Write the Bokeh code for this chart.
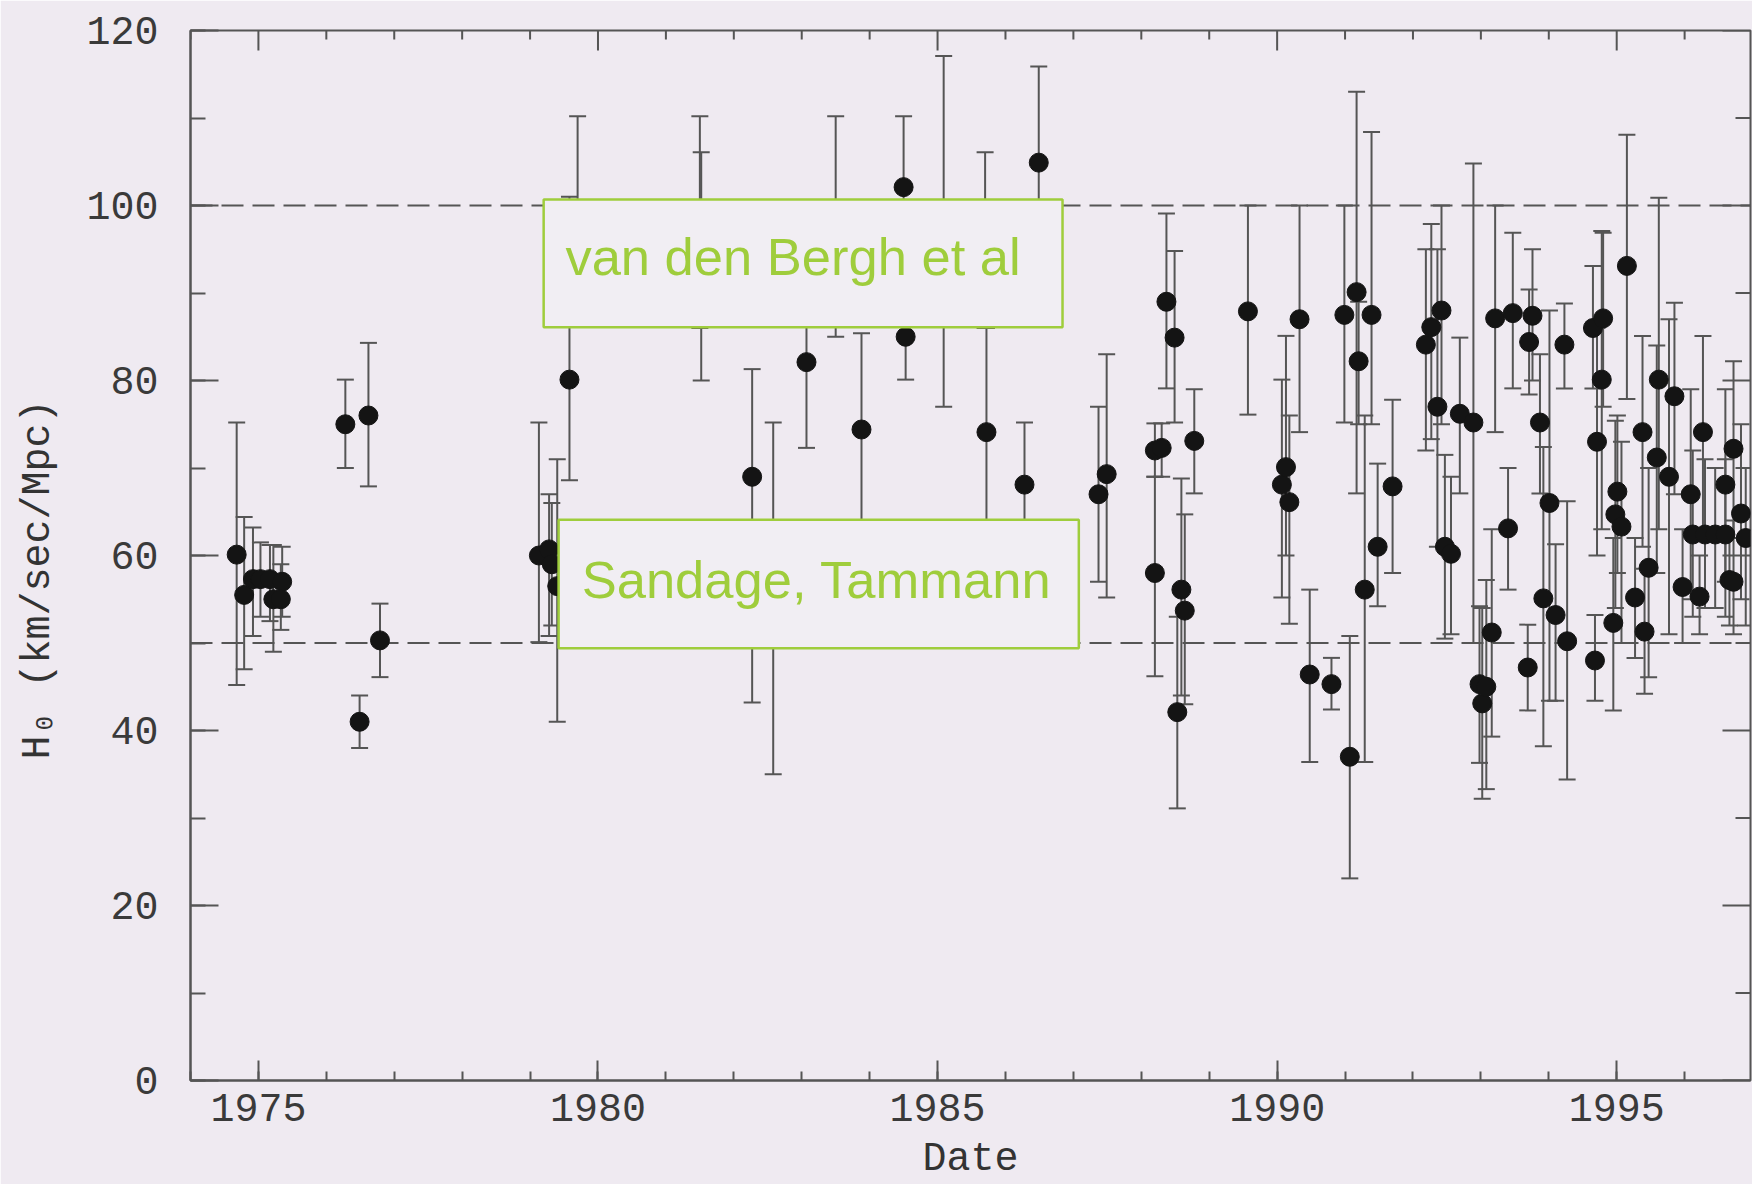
import math
from bokeh.plotting import figure
from bokeh.models import (ColumnDataSource, Whisker, TeeHead, Span, BoxAnnotation,
                          Label, SingleIntervalTicker, Range1d)
from bokeh.embed import file_html
from bokeh.resources import INLINE

# ---------------- data ----------------
year = [1974.68, 1974.79, 1974.92, 1975.03, 1975.17, 1975.22, 1975.35, 1975.33,
        1976.28, 1976.62, 1976.49, 1976.79,
        1979.13, 1979.28, 1979.32, 1979.40, 1979.58, 1979.70,
        1981.50, 1981.52, 1982.27, 1982.58, 1983.07, 1983.50, 1983.88,
        1984.50, 1984.53, 1985.09, 1985.70, 1985.72, 1986.28, 1986.49,
        1987.37, 1987.49,
        1988.20, 1988.20, 1988.30, 1988.37, 1988.49, 1988.59, 1988.64, 1988.53, 1988.78,
        1989.57,
        1990.07, 1990.13, 1990.18, 1990.33, 1990.48, 1990.80, 1990.99, 1991.07,
        1991.17, 1991.20, 1991.39, 1991.29, 1991.48, 1991.70,
        1992.19, 1992.27, 1992.42, 1992.36, 1992.47, 1992.56, 1992.69, 1992.89,
        1992.98, 1993.02, 1993.08, 1993.16, 1993.21, 1993.40, 1993.47, 1993.69,
        1993.71, 1993.76, 1993.87, 1993.92, 1994.01, 1994.10, 1994.23, 1994.27,
        1994.65, 1994.68, 1994.71, 1994.78, 1994.80, 1994.95, 1994.98, 1995.01,
        1995.07, 1995.15, 1995.27, 1995.38, 1995.41, 1995.47, 1995.59, 1995.62,
        1995.77, 1995.85, 1995.97, 1996.09, 1996.12, 1996.22, 1996.27, 1996.30,
        1996.45, 1996.60, 1996.60, 1996.66, 1996.72, 1996.72, 1996.83, 1996.90]
h0 = [60.1, 55.5, 57.3, 57.3, 57.3, 55.0, 57.0, 55.0,
      75.0, 76.0, 41.0, 50.3,
      60.0, 60.7, 59.0, 56.5, 80.1, 95.0,
      94.0, 93.0, 69.0, 55.0, 82.1, 93.0, 74.4,
      102.1, 85.0, 97.0, 96.0, 74.1, 68.1, 104.9,
      67.0, 69.3,
      58.0, 72.0, 72.3, 89.0, 84.9, 56.1, 53.7, 42.1, 73.1,
      87.9,
      68.1, 70.1, 66.1, 87.0, 46.4, 45.3, 87.5, 37.0,
      90.1, 82.2, 87.5, 56.1, 61.0, 67.9,
      84.1, 86.1, 88.0, 77.0, 61.0, 60.2, 76.2, 75.2,
      45.3, 43.1, 45.0, 51.2, 87.1, 63.1, 87.7, 47.2,
      84.4, 87.4, 75.2, 55.1, 66.0, 53.2, 84.1, 50.2,
      86.0, 48.0, 73.0, 80.1, 87.1, 52.3, 64.7, 67.3,
      63.3, 93.1, 55.2, 74.1, 51.3, 58.6, 71.2, 80.1,
      69.0, 78.2, 56.4, 67.0, 62.4, 55.3, 74.1, 62.4,
      62.4, 68.1, 62.4, 57.2, 72.2, 57.0, 64.8, 62.0]
h0_lo = [45.2, 47.0, 50.8, 53.0, 52.5, 49.0, 53.0, 51.5,
         70.0, 67.9, 38.0, 46.1,
         50.1, 50.8, 52.0, 41.0, 68.6, 88.0,
         86.0, 80.0, 43.2, 35.0, 72.3, 85.0, 60.0,
         94.0, 80.1, 77.0, 86.0, 63.0, 60.0, 94.0,
         57.0, 55.2,
         46.2, 69.0, 69.0, 79.1, 75.2, 44.0, 43.0, 31.1, 67.1,
         76.1,
         55.2, 60.0, 52.2, 74.1, 36.4, 42.4, 75.2, 23.1,
         67.1, 75.0, 75.0, 36.4, 54.2, 58.0,
         72.0, 73.3, 75.0, 61.0, 50.5, 51.0, 67.1, 50.0,
         36.3, 32.2, 33.3, 39.3, 74.1, 56.1, 79.1, 42.3,
         78.4, 80.0, 67.1, 38.2, 43.4, 43.4, 79.1, 34.4,
         79.1, 43.4, 60.0, 63.0, 77.0, 42.3, 54.0, 58.0,
         50.0, 77.9, 48.3, 61.0, 44.2, 46.1, 58.0, 63.0,
         51.0, 67.0, 50.0, 55.0, 53.0, 51.0, 63.0, 54.0,
         54.0, 57.0, 53.0, 52.0, 62.0, 51.0, 55.0, 52.0]
h0_hi = [75.2, 64.4, 63.2, 61.5, 61.2, 61.2, 61.0, 59.0,
         80.1, 84.3, 44.0, 54.5,
         75.2, 67.0, 66.0, 71.0, 101.0, 110.2,
         110.2, 106.1, 81.3, 75.2, 90.0, 110.2, 85.4,
         110.2, 90.0, 117.1, 106.1, 86.0, 75.2, 115.9,
         77.0, 83.0,
         69.0, 75.1, 75.1, 99.1, 94.8, 68.8, 64.7, 53.0, 79.0,
         100.0,
         80.1, 85.1, 76.0, 100.0, 56.1, 48.3, 100.0, 50.8,
         113.0, 89.0, 108.4, 76.0, 70.5, 77.8,
         95.0, 97.9, 100.0, 95.0, 71.5, 69.0, 84.9, 104.8,
         54.2, 54.0, 57.2, 63.0, 100.0, 70.0, 96.9, 52.1,
         90.4, 95.0, 83.0, 72.4, 88.0, 61.3, 88.8, 66.2,
         93.1, 53.2, 86.0, 97.1, 96.9, 62.0, 75.4, 76.0,
         73.0, 108.1, 62.0, 85.1, 58.5, 70.0, 84.0, 100.9,
         87.0, 88.9, 63.0, 79.0, 72.0, 60.0, 85.1, 71.0,
         70.0, 79.0, 71.0, 62.0, 82.2, 64.0, 75.0, 70.0]

x_start, x_end = 1974, 1996.97
y_start, y_end = 0, 120
x_tick_years = list(range(1974, 1997))        # minor every year, major every 5
y_tick_values = list(range(0, 121, 10))       # minor every 10, major every 20
x_major_step = 5
y_major_step = 20
ref_values = [100, 50]
labels = ["van den Bergh et al", "Sandage, Tammann"]
x_title = "Date"
y_title = "H\u2080   (km/sec/Mpc)"

# ---------------- style ----------------
BG = "#efeaf1"
AX = "#555555"
GREEN = "#9fcd3c"
FONT = "Liberation Mono"

src = ColumnDataSource(dict(x=year, y=h0, lo=h0_lo, hi=h0_hi))

p = figure(width=1752, height=1184, x_range=Range1d(x_start, x_end), y_range=Range1d(y_start, y_end),
           output_backend="svg", toolbar_location=None,
           min_border_left=190, min_border_right=2, min_border_top=30, min_border_bottom=102,
           background_fill_color=BG, border_fill_color=BG,
           outline_line_color=AX, outline_line_width=2)
p.xgrid.visible = False
p.ygrid.visible = False

for ax, horizontal in ((p.xaxis[0], True), (p.yaxis[0], False)):
    ax.axis_line_color = AX
    ax.axis_line_width = 2
    ax.major_tick_line_color = AX
    ax.minor_tick_line_color = AX
    ax.major_tick_line_width = 2
    ax.minor_tick_line_width = 2
    ax.major_tick_out = 0
    ax.minor_tick_out = 0
    ax.major_label_text_font = FONT
    ax.major_label_text_font_size = "40px"
    ax.major_label_text_color = "#3a3a3a"
    ax.axis_label_text_font = FONT
    ax.axis_label_text_font_size = "40px"
    ax.axis_label_text_font_style = "normal"
    ax.axis_label_text_color = "#333333"
    if horizontal:
        ax.major_tick_in = 20
        ax.minor_tick_in = 9
        ax.ticker = SingleIntervalTicker(interval=x_major_step, num_minor_ticks=5)
    else:
        ax.major_tick_in = 28
        ax.minor_tick_in = 15
        ax.ticker = SingleIntervalTicker(interval=y_major_step, num_minor_ticks=2)

p.xaxis[0].axis_label = x_title
p.xaxis[0].major_label_standoff = 13
p.xaxis[0].axis_label_standoff = 13
p.yaxis[0].axis_label = y_title
p.yaxis[0].major_label_standoff = 32
p.yaxis[0].axis_label_standoff = 22

# inward ticks on the top and right frame edges (no labels there)
top_len = [20 if v % x_major_step == 0 else 9 for v in x_tick_years]
p.ray(x=x_tick_years, y=[y_end] * len(x_tick_years), length=top_len, length_units="screen",
      angle=-math.pi / 2, line_color=AX, line_width=2)
right_len = [28 if v % y_major_step == 0 else 15 for v in y_tick_values]
p.ray(x=[x_end] * len(y_tick_values), y=y_tick_values, length=right_len, length_units="screen",
      angle=math.pi, line_color=AX, line_width=2)

# reference dashed lines
for v in ref_values:
    p.add_layout(Span(location=v, dimension="width", line_color=AX, line_width=2,
                      line_dash="22 9", level="underlay"))

# error bars
p.add_layout(Whisker(source=src, base="x", lower="lo", upper="hi", dimension="height",
                     line_color="#555555", line_width=2, level="underlay",
                     lower_head=TeeHead(size=17, line_color="#555555", line_width=2),
                     upper_head=TeeHead(size=17, line_color="#555555", line_width=2)))

# points
p.scatter("x", "y", source=src, size=19, color="#141414")

# annotation boxes
boxes = [dict(left=1979.20, right=1986.84, bottom=86.1, top=100.7),
         dict(left=1979.42, right=1987.08, bottom=49.4, top=64.1)]
label_pos = [(1979.52, 94.2), (1979.76, 57.3)]
for b, txt, (lx, ly) in zip(boxes, labels, label_pos):
    p.add_layout(BoxAnnotation(left=b["left"], right=b["right"], bottom=b["bottom"], top=b["top"],
                               fill_color="#f1eef3", fill_alpha=1.0,
                               line_color=GREEN, line_width=2.5, line_alpha=1.0))
    p.add_layout(Label(x=lx, y=ly, text=txt, text_font="Liberation Sans",
                       text_font_size="52.5px", text_color=GREEN, text_baseline="middle"))

open("out.html", "w").write(file_html(p, INLINE))
